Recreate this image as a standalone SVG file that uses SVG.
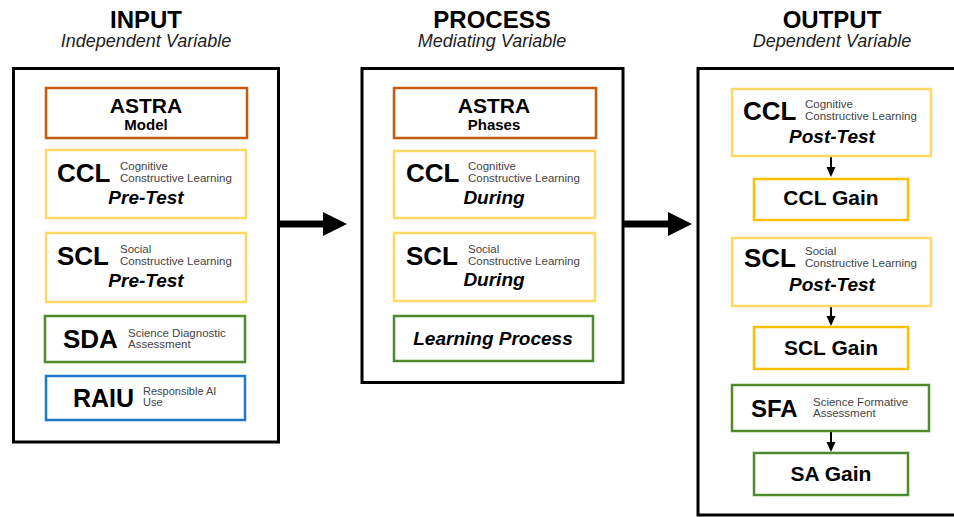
<svg xmlns="http://www.w3.org/2000/svg" width="954" height="517" viewBox="0 0 954 517">
<style>
text{font-family:"Liberation Sans",Arial,sans-serif;fill:#000}
.title{font-size:24px;font-weight:bold;text-anchor:middle}
.sub{font-size:18px;font-style:italic;text-anchor:middle;fill:#222}
.panel{fill:#fff;stroke:#000;stroke-width:3}
.box{fill:#fff;stroke-width:2.5}
.orange{stroke:#C55A11}
.yellow{stroke:#FFD966}
.gold{stroke:#FFC000}
.green{stroke:#4E8B2E}
.blue{stroke:#1F78C8}
.big{font-size:21px;font-weight:bold;text-anchor:middle}
.mid{font-size:15px;font-weight:bold;text-anchor:middle}
.abbr{font-size:26px;font-weight:bold}
.small{font-size:11.5px;fill:#444}
.bi{font-size:19px;font-weight:bold;font-style:italic;text-anchor:middle}
.conn{stroke:#000;fill:none}
</style>
<defs>
<marker id="bighead" viewBox="0 0 24 24" markerWidth="24" markerHeight="24" refX="0" refY="12" markerUnits="userSpaceOnUse" orient="auto">
<path d="M0,0 L24,12 L0,24 z" fill="#000"/>
</marker>
<marker id="smallhead" viewBox="0 0 10 10" markerWidth="10" markerHeight="10" refX="0" refY="5" markerUnits="userSpaceOnUse" orient="auto">
<path d="M0,0.5 L10,5 L0,9.5 z" fill="#000"/>
</marker>
</defs>
<rect width="954" height="517" fill="#fff"/>

<g id="titles">
<text class="title" x="146" y="28">INPUT</text>
<text class="sub" x="146" y="47">Independent Variable</text>
<text class="title" x="492" y="28">PROCESS</text>
<text class="sub" x="492" y="47">Mediating Variable</text>
<text class="title" x="832" y="28">OUTPUT</text>
<text class="sub" x="832" y="47">Dependent Variable</text>
</g>

<g id="panel-input"><rect class="panel" x="13.5" y="68.5" width="265" height="373.5"/></g>
<g id="panel-process"><rect class="panel" x="362" y="68.5" width="261" height="314"/></g>
<g id="panel-output"><rect class="panel" x="698" y="68.5" width="280" height="446.5"/></g>

<g id="connectors">
<line class="conn" x1="280" y1="224" x2="323" y2="224" stroke-width="7" marker-end="url(#bighead)"/>
<line class="conn" x1="624" y1="224" x2="668" y2="224" stroke-width="7" marker-end="url(#bighead)"/>
<line class="conn" x1="831" y1="157" x2="831" y2="167" stroke-width="2" marker-end="url(#smallhead)"/>
<line class="conn" x1="831" y1="307" x2="831" y2="316" stroke-width="2" marker-end="url(#smallhead)"/>
<line class="conn" x1="831" y1="432" x2="831" y2="442" stroke-width="2" marker-end="url(#smallhead)"/>
</g>

<g id="astra-model">
<rect class="box orange" x="46" y="88" width="201" height="50"/>
<text class="big" x="146" y="113">ASTRA</text>
<text class="mid" x="146" y="130">Model</text>
</g>
<g id="ccl-pre">
<rect class="box yellow" x="46" y="150" width="200" height="68"/>
<text class="abbr" x="57" y="182">CCL</text>
<text class="small" x="120" y="170">Cognitive</text>
<text class="small" x="120" y="182">Constructive Learning</text>
<text class="bi" x="146" y="204">Pre-Test</text>
</g>
<g id="scl-pre">
<rect class="box yellow" x="46" y="233" width="200" height="69"/>
<text class="abbr" x="57" y="265">SCL</text>
<text class="small" x="120" y="253">Social</text>
<text class="small" x="120" y="265">Constructive Learning</text>
<text class="bi" x="146" y="287">Pre-Test</text>
</g>
<g id="sda">
<rect class="box green" x="45" y="316" width="200" height="46"/>
<text class="abbr" x="63" y="348">SDA</text>
<text class="small" x="128" y="337">Science Diagnostic</text>
<text class="small" x="128" y="348">Assessment</text>
</g>
<g id="raiu">
<rect class="box blue" x="46" y="376" width="199" height="44"/>
<text class="abbr" x="73" y="407" style="font-size:25px">RAIU</text>
<text class="small" x="143" y="395" style="font-size:11px">Responsible AI</text>
<text class="small" x="143" y="406" style="font-size:11px">Use</text>
</g>

<g id="astra-phases">
<rect class="box orange" x="394" y="88" width="202" height="50"/>
<text class="big" x="494" y="113">ASTRA</text>
<text class="mid" x="494" y="130">Phases</text>
</g>
<g id="ccl-during">
<rect class="box yellow" x="394" y="151" width="201" height="67"/>
<text class="abbr" x="406" y="182">CCL</text>
<text class="small" x="468" y="170">Cognitive</text>
<text class="small" x="468" y="182">Constructive Learning</text>
<text class="bi" x="494" y="204">During</text>
</g>
<g id="scl-during">
<rect class="box yellow" x="394" y="233" width="201" height="68"/>
<text class="abbr" x="406" y="265">SCL</text>
<text class="small" x="468" y="253">Social</text>
<text class="small" x="468" y="265">Constructive Learning</text>
<text class="bi" x="494" y="286">During</text>
</g>
<g id="learning-process">
<rect class="box green" x="394" y="316" width="199" height="45"/>
<text class="bi" x="493" y="345">Learning Process</text>
</g>

<g id="ccl-post">
<rect class="box yellow" x="732" y="89" width="199" height="67"/>
<text class="abbr" x="743" y="120">CCL</text>
<text class="small" x="805" y="108">Cognitive</text>
<text class="small" x="805" y="120">Constructive Learning</text>
<text class="bi" x="832" y="143">Post-Test</text>
</g>
<g id="ccl-gain">
<rect class="box gold" x="754" y="179" width="154" height="41"/>
<text class="big" x="831" y="205">CCL Gain</text>
</g>
<g id="scl-post">
<rect class="box yellow" x="732" y="238" width="199" height="68"/>
<text class="abbr" x="744" y="267">SCL</text>
<text class="small" x="805" y="255">Social</text>
<text class="small" x="805" y="267">Constructive Learning</text>
<text class="bi" x="832" y="291">Post-Test</text>
</g>
<g id="scl-gain">
<rect class="box gold" x="754" y="327" width="154" height="42"/>
<text class="big" x="831" y="355">SCL Gain</text>
</g>
<g id="sfa">
<rect class="box green" x="732" y="385" width="197" height="46"/>
<text class="abbr" x="751" y="417" style="font-size:24px">SFA</text>
<text class="small" x="813" y="406">Science Formative</text>
<text class="small" x="813" y="417">Assessment</text>
</g>
<g id="sa-gain">
<rect class="box green" x="754" y="453" width="154" height="42"/>
<text class="big" x="831" y="481">SA Gain</text>
</g>
</svg>
